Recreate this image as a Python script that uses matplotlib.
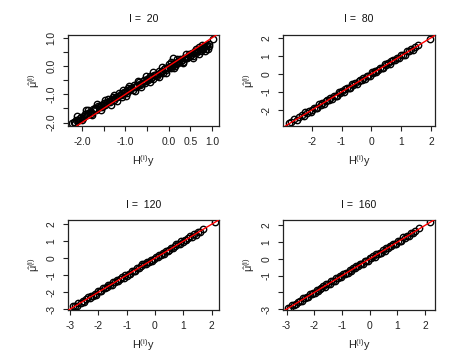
import matplotlib.pyplot as plt

plt.rcParams['font.family'] = ['Liberation Sans', 'DejaVu Sans']
plt.rcParams['axes.unicode_minus'] = False
plt.rcParams['mathtext.fontset'] = 'custom'
plt.rcParams['mathtext.rm'] = 'Liberation Sans'
plt.rcParams['mathtext.it'] = 'Liberation Sans'

TITLES = ['I =  20', 'I =  80', 'I =  120', 'I =  160']

# I = 20
x1 = [-2.22, -2.18, -2.13, -2.09, -2.05, -2.01, -1.97, -1.93, -1.89, -1.85, -1.82, -1.78,
      -1.74, -1.71, -1.67, -1.63, -1.60, -1.56, -1.53, -1.49, -1.46, -1.42, -1.39, -1.35,
      -1.32, -1.28, -1.25, -1.21, -1.18, -1.14, -1.11, -1.07, -1.04, -1.00, -0.97, -0.93,
      -0.90, -0.86, -0.83, -0.79, -0.76, -0.72, -0.69, -0.65, -0.62, -0.58, -0.55, -0.51,
      -0.48, -0.44, -0.41, -0.37, -0.34, -0.30, -0.27, -0.23, -0.20, -0.16, -0.13, -0.09,
      -0.06, -0.02, 0.01, 0.05, 0.08, 0.12, 0.15, 0.19, 0.22, 0.26, 0.29, 0.33, 0.36, 0.40,
      0.43, 0.47, 0.50, 0.54, 0.57, 0.61, 0.64, 0.68, 0.71, 0.75, 0.78, 0.82, 0.85, 0.89,
      0.92, 1.03,
      -2.16, -2.06, -1.95, -1.87, -1.80, -1.69, -1.58, -1.51, -1.44, -1.37, -1.30, -1.23,
      -1.16, -1.09, -1.02, -0.95, -0.88, -0.81, -0.74, -0.67, -0.60, -0.53, -0.46, -0.39,
      -0.32, -0.25, -0.18, -0.11, -0.04, 0.03, 0.10, 0.17, 0.24, 0.31, 0.38, 0.45, 0.52,
      0.59, 0.66, 0.73, 0.80, 0.87, 0.93, 0.09,
      -2.11, -1.99, -1.90, -1.76, -1.65, -1.55, -1.47, -1.34, -1.26, -1.19, -1.06, -0.99,
      -0.91, -0.78, -0.70, -0.63, -0.52, -0.43, -0.36, -0.22, -0.15, -0.05, 0.06, 0.13,
      0.20, 0.34, 0.41, 0.55, 0.62, 0.69, 0.76, 0.84, 0.90]
y1 = [-2.03, -1.98, -1.92, -1.90, -1.84, -1.80, -1.83, -1.71, -1.72, -1.57, -1.64, -1.70,
      -1.52, -1.54, -1.55, -1.40, -1.46, -1.38, -1.46, -1.29, -1.36, -1.28, -1.16, -1.28,
      -1.21, -1.11, -1.21, -1.08, -1.11, -0.95, -1.03, -1.08, -0.91, -0.92, -0.94, -0.79,
      -0.85, -0.77, -0.85, -0.68, -0.75, -0.67, -0.55, -0.68, -0.60, -0.50, -0.60, -0.47,
      -0.50, -0.34, -0.42, -0.47, -0.30, -0.31, -0.34, -0.18, -0.24, -0.16, -0.24, -0.07,
      -0.14, -0.06, 0.06, -0.07, 0.01, 0.10, 0.01, 0.14, 0.11, 0.26, 0.19, 0.14, 0.30, 0.30,
      0.27, 0.43, 0.37, 0.45, 0.37, 0.53, 0.47, 0.55, 0.67, 0.54, 0.62, 0.71, 0.62, 0.75,
      0.72, 0.96,
      -2.02, -1.89, -1.76, -1.65, -1.62, -1.47, -1.43, -1.37, -1.30, -1.22, -1.17, -1.13,
      -1.06, -0.99, -0.95, -0.86, -0.81, -0.74, -0.69, -0.63, -0.54, -0.51, -0.43, -0.37,
      -0.33, -0.27, -0.20, -0.12, -0.08, -0.01, 0.04, 0.09, 0.17, 0.22, 0.28, 0.33, 0.41,
      0.47, 0.52, 0.59, 0.65, 0.70, 0.77, 0.28,
      -1.75, -1.92, -1.56, -1.72, -1.35, -1.54, -1.19, -1.36, -1.01, -1.22, -0.84, -1.05,
      -0.70, -0.87, -0.52, -0.74, -0.36, -0.56, -0.22, -0.38, -0.04, -0.23, 0.14, -0.08,
      0.26, 0.10, 0.44, 0.29, 0.62, 0.42, 0.74, 0.55, 0.60]

# I = 80
x2 = [-2.77, -2.70, -2.58, -2.50, -2.44, -2.32, -2.26, -2.21, -2.15, -2.09, -2.03, -1.98,
      -1.92, -1.87, -1.81, -1.76, -1.70, -1.64, -1.59, -1.53, -1.48, -1.42, -1.37, -1.31,
      -1.26, -1.20, -1.15, -1.09, -1.04, -0.98, -0.93, -0.87, -0.82, -0.76, -0.71, -0.65,
      -0.60, -0.54, -0.49, -0.43, -0.38, -0.32, -0.27, -0.21, -0.16, -0.10, -0.05, 0.01,
      0.06, 0.12, 0.17, 0.23, 0.28, 0.34, 0.39, 0.45, 0.50, 0.56, 0.61, 0.67, 0.73, 0.80,
      0.86, 0.93, 0.99, 1.05, 1.12, 1.18, 1.26, 1.33, 1.40, 1.47, 1.55, 1.95]
y2 = [-2.71, -2.66, -2.52, -2.53, -2.41, -2.29, -2.31, -2.13, -2.17, -2.05, -2.09, -1.97,
      -1.87, -1.90, -1.89, -1.69, -1.71, -1.61, -1.64, -1.51, -1.42, -1.46, -1.35, -1.38,
      -1.23, -1.20, -1.20, -1.01, -1.06, -0.94, -0.99, -0.86, -0.77, -0.79, -0.79, -0.58,
      -0.61, -0.51, -0.54, -0.41, -0.32, -0.36, -0.25, -0.28, -0.13, -0.10, -0.10, 0.09,
      0.04, 0.16, 0.11, 0.24, 0.33, 0.31, 0.31, 0.52, 0.49, 0.59, 0.56, 0.69, 0.79, 0.76,
      0.88, 0.86, 1.02, 1.05, 1.07, 1.26, 1.24, 1.37, 1.34, 1.48, 1.60, 1.95]

# I = 120
x3 = [-2.90, -2.84, -2.76, -2.70, -2.62, -2.55, -2.49, -2.43, -2.37, -2.31, -2.25, -2.19,
      -2.13, -2.07, -2.01, -1.95, -1.89, -1.83, -1.77, -1.71, -1.65, -1.59, -1.53, -1.47,
      -1.41, -1.35, -1.29, -1.23, -1.17, -1.11, -1.05, -0.99, -0.93, -0.87, -0.81, -0.75,
      -0.69, -0.63, -0.57, -0.51, -0.45, -0.39, -0.33, -0.27, -0.21, -0.15, -0.09, -0.03,
      0.03, 0.09, 0.15, 0.21, 0.27, 0.33, 0.39, 0.45, 0.51, 0.57, 0.63, 0.69, 0.75, 0.81,
      0.87, 0.93, 0.99, 1.05, 1.11, 1.17, 1.23, 1.30, 1.37, 1.44, 1.52, 1.60, 1.69, 2.13]
y3 = [-2.82, -2.81, -2.80, -2.64, -2.64, -2.50, -2.55, -2.42, -2.30, -2.34, -2.21, -2.24,
      -2.11, -2.14, -1.96, -1.95, -1.93, -1.77, -1.78, -1.68, -1.57, -1.56, -1.57, -1.41,
      -1.43, -1.30, -1.35, -1.22, -1.10, -1.14, -1.01, -1.04, -0.91, -0.94, -0.76, -0.75,
      -0.73, -0.57, -0.58, -0.48, -0.37, -0.36, -0.37, -0.21, -0.23, -0.10, -0.15, -0.02,
      0.10, 0.06, 0.19, 0.16, 0.29, 0.26, 0.44, 0.45, 0.47, 0.63, 0.62, 0.72, 0.83, 0.84,
      0.83, 0.99, 0.97, 1.10, 1.05, 1.18, 1.30, 1.27, 1.41, 1.39, 1.54, 1.53, 1.74, 2.12]

# I = 160
x4 = [-2.96, -2.88, -2.80, -2.73, -2.66, -2.59, -2.52, -2.46, -2.40, -2.34, -2.28, -2.22,
      -2.16, -2.10, -2.04, -1.98, -1.92, -1.86, -1.80, -1.74, -1.68, -1.62, -1.56, -1.50,
      -1.44, -1.38, -1.32, -1.26, -1.20, -1.14, -1.08, -1.02, -0.96, -0.90, -0.84, -0.78,
      -0.72, -0.66, -0.60, -0.54, -0.48, -0.42, -0.36, -0.30, -0.24, -0.18, -0.12, -0.06,
      0.00, 0.06, 0.12, 0.18, 0.24, 0.30, 0.36, 0.42, 0.48, 0.54, 0.60, 0.66, 0.72, 0.78,
      0.84, 0.90, 0.96, 1.02, 1.08, 1.14, 1.20, 1.27, 1.34, 1.41, 1.48, 1.56, 1.65, 1.79,
      2.18]
y4 = [-2.91, -2.91, -2.73, -2.73, -2.72, -2.55, -2.51, -2.51, -2.32, -2.36, -2.25, -2.29,
      -2.10, -2.11, -2.02, -2.02, -1.87, -1.92, -1.77, -1.74, -1.63, -1.65, -1.49, -1.50,
      -1.50, -1.34, -1.31, -1.31, -1.12, -1.16, -1.05, -1.09, -0.90, -0.91, -0.82, -0.82,
      -0.67, -0.72, -0.57, -0.54, -0.43, -0.45, -0.29, -0.30, -0.30, -0.14, -0.11, -0.11,
      0.08, 0.04, 0.15, 0.11, 0.30, 0.29, 0.38, 0.38, 0.53, 0.48, 0.63, 0.66, 0.77, 0.75,
      0.91, 0.90, 0.90, 1.06, 1.09, 1.09, 1.28, 1.25, 1.37, 1.34, 1.54, 1.55, 1.67, 1.86,
      2.22]

# tick positions and labels (R drops labels that would overlap)
xt1 = [-2.0, -1.5, -1.0, -0.5, 0.0, 0.5, 1.0]
xl1 = ['-2.0', '', '-1.0', '', '0.0', '0.5', '1.0']
yt1 = [-2.0, -1.5, -1.0, -0.5, 0.0, 0.5, 1.0]
yl1 = ['-2.0', '', '-1.0', '', '0.0', '', '1.0']
xt2 = [-2, -1, 0, 1, 2]
yt2 = [-2, -1, 0, 1, 2]
xt34 = [-3, -2, -1, 0, 1, 2]
yt3 = [-3, -2, -1, 0, 1, 2]
yl4 = ['-3', '', '-1', '0', '1', '2']

W, H = 455, 361


def panel(box, x, y, title, xlim, ylim, xt, xl, yt, yl):
    left, top, right, bottom = box
    ax = fig.add_axes([left / W, 1 - bottom / H, (right - left) / W, (bottom - top) / H])
    ax.plot(x, y, 'o', mfc='none', mec='black', ms=4.6, mew=1.0, zorder=2)
    ax.axline((0, 0), slope=1, color='red', lw=1, zorder=3)
    ax.set_xlim(xlim)
    ax.set_ylim(ylim)
    ax.set_xticks(xt)
    ax.set_xticklabels(xl if xl else [str(v) for v in xt])
    ax.set_yticks(yt)
    ax.set_yticklabels(yl if yl else [str(v) for v in yt], rotation=90, va='center')
    ax.tick_params(length=3.6, width=0.8, labelsize=7.4, pad=4.6, colors='#222222')
    for s in ax.spines.values():
        s.set_linewidth(0.9)
        s.set_color('#222222')
    ax.set_title(title, fontsize=7.6, pad=9, color='#111111')
    ax.set_xlabel(r'$\mathrm{H}^{(i)}\mathrm{y}$', fontsize=7.8, color='#222222')
    ax.set_ylabel(r'$\hat{\mu}^{(i)}$', fontsize=7.8, color='#222222')
    ax.xaxis.set_label_coords(0.5, -27 / (bottom - top))
    ax.yaxis.set_label_coords(-26 / (right - left), 0.5)
    return ax


fig = plt.figure(figsize=(W / 100, H / 100), dpi=100)
panel((68, 35, 219, 126), x1, y1, TITLES[0], (-2.32, 1.16), (-2.12, 1.10), xt1, xl1, yt1, yl1)
panel((283, 35, 435, 126), x2, y2, TITLES[1], (-2.96, 2.13), (-2.88, 2.15), xt2, None, yt2, None)
panel((68, 220, 219, 310), x3, y3, TITLES[2], (-3.07, 2.26), (-3.05, 2.25), xt34, None, yt3, None)
panel((283, 220, 435, 310), x4, y4, TITLES[3], (-3.13, 2.36), (-3.05, 2.32), xt34, None, yt3, yl4)

fig.savefig('out.png', dpi=100)
